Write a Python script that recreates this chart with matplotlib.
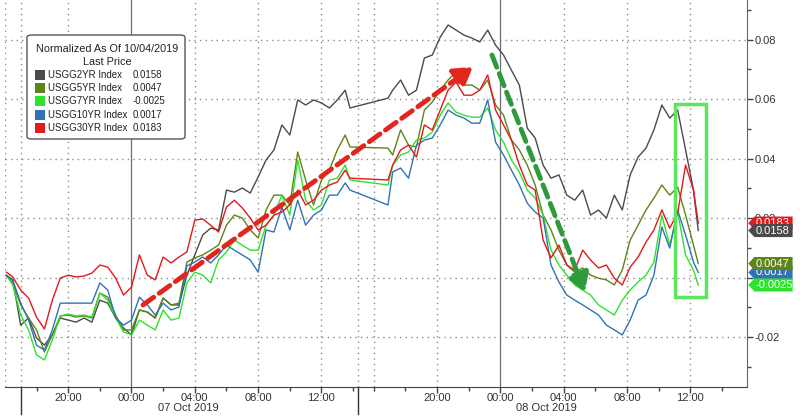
import numpy as np
import matplotlib.pyplot as plt
import matplotlib.transforms as mtransforms
from matplotlib.patches import FancyBboxPatch, Rectangle, Polygon

plt.rcParams['font.family'] = ['Liberation Sans', 'DejaVu Sans']

# time axis in "chart hours" from the 17:00 session start on 06 Oct
# (the terminal squeezes the afternoon break of 07 Oct, so day 2 is shifted by 0.3h)
hours = np.concatenate([[-0.9, -0.5], np.arange(0, 20.6, 0.5), [20.8, 23.2],
                        np.arange(23.5, 42.6, 0.5), [42.8]])

usgg2 = [0.0008, -0.0008, -0.0160, -0.0136, -0.0203, -0.0227, -0.0193, -0.0136, -0.0143, -0.0150,
         -0.0136, -0.0150, -0.0076, -0.0086, -0.0136, -0.0170, -0.0193, -0.0109, -0.0116, -0.0136,
         -0.0069, -0.0092, -0.0092, 0.0008, 0.0076, 0.0143, 0.0166, 0.0160, 0.0294, 0.0287,
         0.0301, 0.0284, 0.0338, 0.0395, 0.0429, 0.0513, 0.0479, 0.0597, 0.0580, 0.0597,
         0.0587, 0.0570, 0.0597, 0.0630, 0.0570,
         0.0603, 0.0630, 0.0664, 0.0613, 0.0630, 0.0738, 0.0748, 0.0808, 0.0849, 0.0832,
         0.0815, 0.0805, 0.0792, 0.0832, 0.0781, 0.0748, 0.0697, 0.0647, 0.0502, 0.0469,
         0.0378, 0.0334, 0.0345, 0.0277, 0.0260, 0.0294, 0.0210, 0.0227, 0.0200, 0.0277,
         0.0227, 0.0345, 0.0405, 0.0435, 0.0496, 0.0580, 0.0536, 0.0563, 0.0429, 0.0294, 0.0158]

usgg5 = [0.0008, -0.0018, -0.0092, -0.0136, -0.0176, -0.0250, -0.0193, -0.0129, -0.0126, -0.0133,
         -0.0129, -0.0136, -0.0052, -0.0066, -0.0126, -0.0176, -0.0176, -0.0109, -0.0116, -0.0136,
         -0.0069, -0.0092, -0.0086, 0.0052, 0.0066, 0.0076, 0.0092, 0.0109, 0.0176, 0.0210,
         0.0200, 0.0160, 0.0133, 0.0227, 0.0277, 0.0277, 0.0244, 0.0422, 0.0328, 0.0244,
         0.0328, 0.0361, 0.0429, 0.0479, 0.0439,
         0.0435, 0.0412, 0.0496, 0.0445, 0.0439, 0.0563, 0.0590, 0.0630, 0.0664, 0.0691,
         0.0647, 0.0647, 0.0630, 0.0664, 0.0580, 0.0546, 0.0462, 0.0429, 0.0378, 0.0311,
         0.0210, 0.0160, 0.0092, 0.0042, 0.0018, 0.0032, 0.0008, -0.0002, -0.0008, -0.0025,
         0.0025, 0.0126, 0.0176, 0.0227, 0.0267, 0.0311, 0.0277, 0.0304, 0.0210, 0.0109, 0.0047]

usgg7 = [0.0008, -0.0025, -0.0126, -0.0176, -0.0260, -0.0277, -0.0210, -0.0129, -0.0123, -0.0129,
         -0.0126, -0.0133, -0.0052, -0.0076, -0.0136, -0.0183, -0.0193, -0.0143, -0.0160, -0.0176,
         -0.0109, -0.0143, -0.0136, -0.0018, 0.0018, 0.0008, -0.0018, 0.0059, 0.0086, 0.0126,
         0.0109, 0.0092, 0.0092, 0.0176, 0.0210, 0.0277, 0.0210, 0.0395, 0.0260, 0.0227,
         0.0244, 0.0328, 0.0334, 0.0378, 0.0328,
         0.0311, 0.0378, 0.0412, 0.0422, 0.0462, 0.0469, 0.0489, 0.0546, 0.0587, 0.0556,
         0.0546, 0.0539, 0.0539, 0.0570, 0.0496, 0.0455, 0.0395, 0.0355, 0.0294, 0.0267,
         0.0210, 0.0092, 0.0042, 0.0008, -0.0025, -0.0042, -0.0059, -0.0092, -0.0109, -0.0126,
         -0.0076, -0.0042, -0.0015, 0.0008, 0.0052, 0.0210, 0.0109, 0.0220, 0.0076, 0.0025, -0.0025]

usgg10 = [0.0005, -0.0008, -0.0086, -0.0143, -0.0227, -0.0244, -0.0176, -0.0086, -0.0086, -0.0086,
          -0.0086, -0.0086, -0.0018, -0.0042, -0.0136, -0.0160, -0.0143, -0.0066, -0.0092, -0.0126,
          -0.0086, -0.0109, -0.0099, 0.0039, 0.0052, 0.0069, 0.0049, 0.0076, 0.0109, 0.0092,
          0.0076, 0.0059, 0.0018, 0.0160, 0.0153, 0.0237, 0.0160, 0.0260, 0.0176, 0.0210,
          0.0227, 0.0277, 0.0277, 0.0318, 0.0294,
          0.0244, 0.0355, 0.0368, 0.0334, 0.0445, 0.0462, 0.0469, 0.0513, 0.0563, 0.0546,
          0.0536, 0.0519, 0.0519, 0.0597, 0.0455, 0.0412, 0.0361, 0.0311, 0.0250, 0.0220,
          0.0200, 0.0042, -0.0015, -0.0059, -0.0076, -0.0092, -0.0109, -0.0126, -0.0160, -0.0176,
          -0.0193, -0.0143, -0.0076, -0.0059, 0.0008, 0.0170, 0.0099, 0.0227, 0.0143, 0.0052, 0.0017]

usgg30 = [0.0018, 0.0002, -0.0042, -0.0069, -0.0133, -0.0173, -0.0076, -0.0002, 0.0008, 0.0002,
          0.0005, 0.0015, 0.0042, 0.0035, -0.0002, -0.0059, -0.0032, 0.0076, 0.0008, -0.0008,
          0.0069, 0.0049, 0.0069, 0.0086, 0.0193, 0.0197, 0.0176, 0.0153, 0.0237, 0.0260,
          0.0234, 0.0200, 0.0160, 0.0176, 0.0210, 0.0220, 0.0244, 0.0294, 0.0244, 0.0260,
          0.0294, 0.0311, 0.0321, 0.0361, 0.0334,
          0.0328, 0.0378, 0.0429, 0.0445, 0.0405, 0.0513, 0.0496, 0.0563, 0.0630, 0.0657,
          0.0613, 0.0613, 0.0630, 0.0681, 0.0563, 0.0513, 0.0462, 0.0378, 0.0311, 0.0294,
          0.0126, 0.0066, 0.0109, 0.0042, 0.0025, 0.0092, 0.0059, 0.0032, 0.0042, -0.0002,
          -0.0025, 0.0035, 0.0069, 0.0119, 0.0160, 0.0227, 0.0166, 0.0217, 0.0378, 0.0294, 0.0183]

names = ['USGG2YR Index', 'USGG5YR Index', 'USGG7YR Index', 'USGG10YR Index', 'USGG30YR Index']
series = [usgg2, usgg5, usgg7, usgg10, usgg30]
colors = ['#4a4a4a', '#5e8418', '#2ee22e', '#3272b4', '#e3191c']

tick_pos = [3, 7, 11, 15, 19, 26.3, 30.3, 34.3, 38.3, 42.3]
tick_lab = ['20:00', '00:00', '04:00', '08:00', '12:00'] * 2
minor_pos = [1, 5, 9, 13, 17, 21, 22.3, 24.3, 28.3, 32.3, 36.3, 40.3, 44.3]
day_breaks = [0, 21.3]
day_labels = [(10.6, '07 Oct 2019'), (33.2, '08 Oct 2019')]

fig = plt.figure(figsize=(8, 4.16), dpi=100)
ax = fig.add_axes([0.00625, 0.0704, 0.9279, 0.9296])
ax.set_xlim(-0.99, 45.9)
ax.set_ylim(-0.0367, 0.0933)

for vals, col in zip(series, colors):
    ax.plot(hours, vals, color=col, lw=1.0, zorder=3)

# grid
for v in [-0.02, 0, 0.02, 0.04, 0.06, 0.08]:
    ax.axhline(v, color='#8c8c8c', lw=1, ls=(0, (1, 3)), zorder=1)
for h in [-1, 0, 3, 11, 15, 19, 21.3, 22.3, 26.3, 34.3, 38.3, 42.3]:
    ax.axvline(h, color='#8c8c8c', lw=1, ls=(0, (1, 3)), zorder=1)
for h in [7, 30.3]:
    ax.axvline(h, color='#6e6e6e', lw=0.9, zorder=1)

for s in ['left', 'top']:
    ax.spines[s].set_visible(False)
ax.spines['bottom'].set_color('#444444')
ax.spines['right'].set_color('#666666')

ax.yaxis.tick_right()
ax.set_yticks([-0.02, 0, 0.02, 0.04, 0.06, 0.08])
ax.set_yticklabels(['-0.02', '0.00', '0.02', '0.04', '0.06', '0.08'])
ax.set_yticks([-0.03, -0.01, 0.01, 0.03, 0.05, 0.07, 0.09], minor=True)
ax.set_xticks(tick_pos)
ax.set_xticklabels(tick_lab)
ax.set_xticks(minor_pos, minor=True)
ax.tick_params(axis='both', which='major', direction='out', length=4, width=1,
               color='#444444', labelsize=8, labelcolor='#333333', pad=1.5)
ax.tick_params(axis='x', which='major', pad=0.5)
ax.tick_params(axis='both', which='minor', direction='out', length=3, width=1, color='#444444')

bt = mtransforms.blended_transform_factory(ax.transData, ax.transAxes)
for h in day_breaks:
    ax.plot([h, h], [0, -0.07], transform=bt, color='#333333', lw=1, clip_on=False)
for h, lab in day_labels:
    ax.text(h, -0.055, lab, transform=bt, ha='center', va='center', fontsize=8, color='#333333')

# annotations
ax.annotate('', xy=(28.57, 0.0708), xytext=(7.73, -0.0092),
            arrowprops=dict(arrowstyle='-|>,head_length=0.9,head_width=0.55', color='#e2261e',
                            lw=3.5, linestyle=(0, (2.7, 1.4)), shrinkA=0, shrinkB=0,
                            mutation_scale=12), zorder=6)
ax.annotate('', xy=(35.65, -0.0049), xytext=(29.77, 0.0748),
            arrowprops=dict(arrowstyle='-|>,head_length=0.9,head_width=0.55', color='#2e9a3c',
                            lw=3.5, linestyle=(0, (2.7, 1.4)), shrinkA=0, shrinkB=0,
                            mutation_scale=12), zorder=6)
ax.add_patch(Rectangle((41.33, -0.0066), 1.96, 0.0649, fill=False, ec='#5ce65c', lw=2.5, zorder=6))

# last value tags on the right axis (later ones cover earlier ones)
rt = mtransforms.blended_transform_factory(ax.transAxes, ax.transData)
tag_h = 0.0044
for k, i in enumerate([4, 3, 0, 1, 2]):
    v = series[i][-1]
    poly = Polygon([(1.0013, v), (1.0095, v + tag_h / 2), (1.061, v + tag_h / 2),
                    (1.061, v - tag_h / 2), (1.0095, v - tag_h / 2)],
                   closed=True, transform=rt, fc=colors[i], ec='none', clip_on=False,
                   zorder=10 + 2 * k)
    ax.add_patch(poly)
    ax.text(1.0115, v, f'{v:.4f}', transform=rt, ha='left', va='center', fontsize=8,
            color='white', clip_on=False, zorder=11 + 2 * k)

# legend box
def fx(x):
    return x / 800

def fy(y):
    return 1 - y / 416

box = FancyBboxPatch((fx(27), fy(139)), 158 / 800, 104 / 416,
                     boxstyle='round,pad=0,rounding_size=0.006', transform=fig.transFigure,
                     fc='white', ec='#555555', lw=1, zorder=20)
fig.add_artist(box)
fig.text(fx(107), fy(49), 'Normalized As Of 10/04/2019', ha='center', va='center',
         fontsize=7.8, color='#222222', zorder=21)
fig.text(fx(107), fy(62), 'Last Price', ha='center', va='center', fontsize=7.8,
         color='#222222', zorder=21)
for k, (nm, vals, col) in enumerate(zip(names, series, colors)):
    y = 75 + k * 13.2
    fig.add_artist(Rectangle((fx(35), fy(y + 5)), 10 / 800, 10 / 416, transform=fig.transFigure,
                             fc=col, ec='none', zorder=21))
    fig.text(fx(48), fy(y), nm, ha='left', va='center', fontsize=7, color='#222222', zorder=21)
    fig.text(fx(133), fy(y), f'{vals[-1]:.4f}', ha='left', va='center', fontsize=7,
             color='#222222', zorder=21)

fig.savefig('out.png', dpi=100)
